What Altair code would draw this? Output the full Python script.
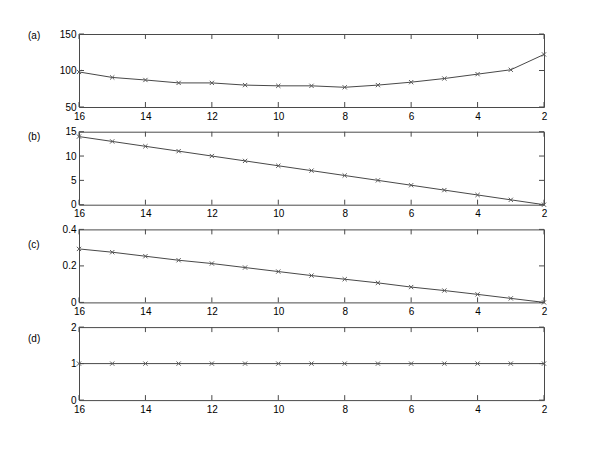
import altair as alt
import pandas as pd

x_vals = [16, 15, 14, 13, 12, 11, 10, 9, 8, 7, 6, 5, 4, 3, 2]
a_vals = [98, 90.5, 87, 83, 83, 80, 79, 79, 77, 80, 84, 89, 95, 101, 122]
b_vals = [14, 13, 12, 11, 10, 9, 8, 7, 6, 5, 4, 3, 2, 1, 0]
c_vals = [0.293, 0.275, 0.253, 0.231, 0.213, 0.191, 0.169, 0.147, 0.127, 0.107,
          0.084, 0.065, 0.044, 0.022, 0.0]
d_vals = [1, 1, 1, 1, 1, 1, 1, 1, 1, 1, 1, 1, 1, 1, 1]

x_ticks = [16, 14, 12, 10, 8, 6, 4, 2]
a_ticks = [50, 100, 150]
b_ticks = [0, 5, 10, 15]
c_ticks = [0, 0.2, 0.4]
d_ticks = [0, 1, 2]
panel_labels = ["(a)", "(b)", "(c)", "(d)"]
label_offsets = [1.5, 5, 15.5, 11.5]

W, H = 465, 73
TICK = 5
FONT = "Liberation Sans"
FS = 10
BOX = "#4a4a4a"

x_enc = alt.X("x:Q", title=None,
              scale=alt.Scale(domain=[2, 16], reverse=True, nice=False, zero=False),
              axis=alt.Axis(values=x_ticks, format="d", tickSize=0, domain=False,
                            grid=False, labelPadding=4, labelFlush=False))


def panel(vals, ticks, label, ly):
    y_enc = alt.Y("y:Q", title=None,
                  scale=alt.Scale(domain=[ticks[0], ticks[-1]], nice=False, zero=False),
                  axis=alt.Axis(values=ticks, format="~f", tickSize=0, domain=False,
                                grid=False, labelPadding=3, labelFlush=False))
    df = pd.DataFrame({"x": x_vals, "y": vals})
    xt = pd.DataFrame({"x": x_ticks})
    yt = pd.DataFrame({"y": ticks})
    line = alt.Chart(df).mark_line(color="#484848", strokeWidth=1, clip=True).encode(x=x_enc, y=y_enc)
    pts = alt.Chart(df).mark_point(shape="M-1,-1L1,1M1,-1L-1,1", size=18, filled=False,
                                   color="#5a5a5a", strokeWidth=1, opacity=1).encode(x=x_enc, y=y_enc)
    xb = alt.Chart(xt).mark_rule(color=BOX, strokeWidth=1).encode(
        x=x_enc, y=alt.value(H), y2=alt.value(H - TICK))
    xtop = alt.Chart(xt).mark_rule(color=BOX, strokeWidth=1).encode(
        x=x_enc, y=alt.value(0), y2=alt.value(TICK))
    yl = alt.Chart(yt).mark_rule(color=BOX, strokeWidth=1).encode(
        y=y_enc, x=alt.value(0), x2=alt.value(TICK))
    yr = alt.Chart(yt).mark_rule(color=BOX, strokeWidth=1).encode(
        y=y_enc, x=alt.value(W - TICK), x2=alt.value(W))
    txt = alt.Chart(pd.DataFrame({"label": [label]})).mark_text(
        align="left", baseline="middle", font=FONT, fontSize=FS, color="black").encode(
        text="label:N", x=alt.value(-51), y=alt.value(ly))
    return alt.layer(xb, xtop, yl, yr, line, pts, txt).properties(
        width=W, height=H, view=alt.ViewBackground(stroke=BOX, strokeWidth=1, fill="white"))


panels = [
    panel(a_vals, a_ticks, panel_labels[0], label_offsets[0]),
    panel(b_vals, b_ticks, panel_labels[1], label_offsets[1]),
    panel(c_vals, c_ticks, panel_labels[2], label_offsets[2]),
    panel(d_vals, d_ticks, panel_labels[3], label_offsets[3]),
]

chart = alt.vconcat(*panels, spacing=24.7, bounds="flush").properties(
    padding={"left": 19, "top": 20, "right": 5, "bottom": 5}
).configure_view(stroke=BOX, strokeWidth=1).configure_axis(
    labelFont=FONT, labelFontSize=FS, labelColor="black"
).configure(background="white")

chart.save("out.html", embed_options={"renderer": "svg", "actions": False})
